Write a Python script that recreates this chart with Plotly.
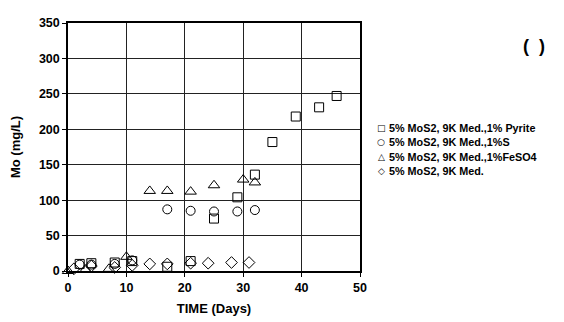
import plotly.graph_objects as go

# Data
pyrite_x = [2, 4, 8, 11, 17, 21, 25, 29, 32, 35, 39, 43, 46]
pyrite_y = [10, 11, 12, 14, 6, 14, 74, 104, 136, 182, 218, 231, 247]
sulfur_x = [2, 4, 8, 11, 17, 21, 25, 29, 32]
sulfur_y = [9, 9, 10, 15, 87, 85, 84, 84, 86]
feso4_x = [0, 3, 7, 10, 14, 17, 21, 25, 30, 32]
feso4_y = [0, 2, 3, 20, 113, 113, 112, 121, 129, 125]
plain_x = [1, 4, 8, 11, 14, 17, 21, 24, 28, 31]
plain_y = [3, 7, 5, 8, 10, 10, 11, 11, 12, 12]

names = ["5% MoS2, 9K Med.,1% Pyrite", "5% MoS2, 9K Med.,1%S",
         "5% MoS2, 9K Med.,1%FeSO4", "5% MoS2, 9K Med."]
legend_glyphs = ["□", "○", "△", "◇"]

FONT = "Liberation Sans, Arial, sans-serif"

# The page body has an 8px margin; lay the figure out in window pixels
OFF = 8
FIG_W, FIG_H = 564 - OFF, 322 - OFF
PX_L, PX_R, PX_T, PX_B = 68, 360, 23, 271   # plot area in window pixels
L = PX_L - OFF
T = PX_T - OFF
R = FIG_W - (PX_R - OFF)
B = FIG_H - (PX_B - OFF)
W = PX_R - PX_L
H = PX_B - PX_T


def px_to_paper(x, y):
    return (x - PX_L) / W, (PX_B - y) / H


fig = go.Figure()
series = [
    (pyrite_x, pyrite_y, "square-open", 9),
    (sulfur_x, sulfur_y, "circle-open", 9),
    (feso4_x, feso4_y, "triangle-up-open", 10),
    (plain_x, plain_y, "diamond-open", 9),
]
for (xs, ys, sym, sz), nm in zip(series, names):
    fig.add_trace(go.Scatter(
        x=xs, y=ys, mode="markers", name=nm, showlegend=False,
        marker=dict(symbol=sym, size=sz, color="black", line=dict(width=1, color="black")),
        cliponaxis=False,
    ))

axis_common = dict(
    showgrid=True, gridcolor="#222", gridwidth=1,
    showline=True, linecolor="black", linewidth=1.5, mirror=True,
    ticks="outside", ticklen=4, tickcolor="black",
    zeroline=False, automargin=False,
    tickfont=dict(family=FONT, size=12.5, color="black", weight="bold"),
    title_font=dict(family=FONT, size=13, color="black", weight="bold"),
)

fig.update_xaxes(range=[0, 50], dtick=10, title_text="TIME (Days)", title_standoff=10, **axis_common)
fig.update_yaxes(range=[0, 350], dtick=50, title_text="Mo (mg/L)", title_standoff=16, **axis_common)

annotations = []
row_y = [127.5, 142, 156.5, 171]
for g, nm, ry in zip(legend_glyphs, names, row_y):
    gx, gy = px_to_paper(381, ry)
    annotations.append(dict(
        x=gx, y=gy, xref="paper", yref="paper", text=g,
        showarrow=False, xanchor="center", yanchor="middle",
        font=dict(family="DejaVu Sans", size=9, color="black"),
    ))
    tx, ty = px_to_paper(387, ry)
    annotations.append(dict(
        x=tx, y=ty, xref="paper", yref="paper", text=nm,
        showarrow=False, xanchor="left", yanchor="middle",
        font=dict(family=FONT, size=10.8, color="black", weight="bold"),
    ))
px_, py_ = px_to_paper(534, 46)
annotations.append(dict(
    x=px_, y=py_, xref="paper", yref="paper", text="(  )",
    showarrow=False, xanchor="center", yanchor="middle",
    font=dict(family=FONT, size=18, color="black", weight="bold"),
))

fig.update_layout(
    width=FIG_W, height=FIG_H,
    margin=dict(l=L, r=R, t=T, b=B),
    paper_bgcolor="white", plot_bgcolor="white",
    annotations=annotations,
    font=dict(family=FONT, color="black"),
)

fig.write_html("out.html")
